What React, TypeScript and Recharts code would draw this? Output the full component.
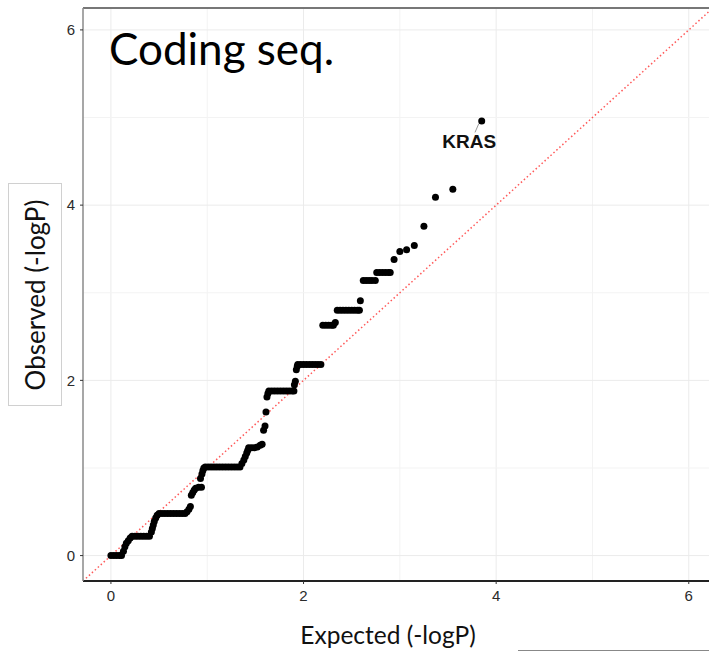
import { ScatterChart, Scatter, XAxis, YAxis, ReferenceLine } from "recharts";

const expected = [
    0.0, 0.03, 0.06, 0.09, 0.11,
    0.13, 0.145, 0.16, 0.18, 0.2,
    0.22, 0.25, 0.28, 0.31, 0.34, 0.37, 0.4,
    0.42, 0.43, 0.44, 0.45, 0.465, 0.48,
    0.5, 0.53, 0.56, 0.59, 0.62, 0.65, 0.68, 0.71, 0.74, 0.77,
    0.79, 0.81, 0.825,
    0.835, 0.85, 0.865, 0.88, 0.91, 0.94,
    0.93, 0.945, 0.955, 0.965,
    0.98, 1.01, 1.04, 1.07, 1.1, 1.13, 1.16, 1.19, 1.22, 1.25, 1.28, 1.31, 1.34,
    1.36, 1.38, 1.395, 1.41, 1.42,
    1.43, 1.46, 1.49, 1.52, 1.55, 1.57,
    1.585, 1.6, 1.61, 1.62, 1.63,
    1.64, 1.67, 1.7, 1.73, 1.76, 1.79, 1.82, 1.85, 1.88, 1.9,
    1.905, 1.915, 1.925, 1.935,
    1.94, 1.97, 2.0, 2.03, 2.06, 2.09, 2.12, 2.15, 2.18,
    2.2, 2.23, 2.26, 2.29, 2.31, 2.33,
    2.35, 2.38, 2.41, 2.44, 2.47, 2.5, 2.53, 2.56, 2.58,
    2.59,
    2.62, 2.65, 2.68, 2.71, 2.745,
    2.76, 2.79, 2.82, 2.85, 2.88, 2.9,
    2.94, 3.0, 3.07, 3.15, 3.25, 3.37, 3.55, 3.85,
];

const observed = [
    0, 0, 0, 0, 0,
    0.05, 0.1, 0.14, 0.17, 0.2,
    0.22, 0.22, 0.22, 0.22, 0.22, 0.22, 0.22,
    0.27, 0.31, 0.35, 0.39, 0.43, 0.46,
    0.48, 0.48, 0.48, 0.48, 0.48, 0.48, 0.48, 0.48, 0.48, 0.48,
    0.5, 0.53, 0.56,
    0.69, 0.72, 0.75, 0.77, 0.78, 0.78,
    0.88, 0.93, 0.97, 1.0,
    1.01, 1.01, 1.01, 1.01, 1.01, 1.01, 1.01, 1.01, 1.01, 1.01, 1.01, 1.01, 1.01,
    1.05, 1.09, 1.13, 1.17, 1.2,
    1.23, 1.23, 1.23, 1.24, 1.26, 1.27,
    1.43, 1.48, 1.64, 1.81, 1.85,
    1.88, 1.88, 1.88, 1.88, 1.88, 1.88, 1.88, 1.88, 1.88, 1.88,
    1.95, 1.99, 2.12, 2.16,
    2.18, 2.18, 2.18, 2.18, 2.18, 2.18, 2.18, 2.18, 2.18,
    2.63, 2.63, 2.63, 2.63, 2.63, 2.66,
    2.8, 2.8, 2.8, 2.8, 2.8, 2.8, 2.8, 2.8, 2.8,
    2.91,
    3.14, 3.14, 3.14, 3.14, 3.14,
    3.23, 3.23, 3.23, 3.23, 3.23, 3.23,
    3.38, 3.47, 3.49, 3.54, 3.76, 4.09, 4.18, 4.96,
];

// labelled gene
const labelGenes = ["KRAS"];
const labelX = [3.72];
const labelY = [4.73];

const xTicks = [0, 2, 4, 6];
const yTicks = [0, 2, 4, 6];
const gridValues = [0, 1, 2, 3, 4, 5, 6];

const xDomain: [number, number] = [-0.29, 6.21];
const yDomain: [number, number] = [-0.29, 6.25];

const points = expected.map((x, i) => ({ x, y: observed[i] }));
const labels = labelGenes.map((name, i) => ({ x: labelX[i], y: labelY[i], name }));

const tickStyle = { fill: "#2b2b2b", fontSize: 15, fontFamily: "Liberation Sans, Arial, sans-serif" };

const Dot = (props: any) => <circle cx={props.cx} cy={props.cy} r={3.5} fill="#000" />;

const GeneLabel = (props: any) => (
    <text
        x={props.cx}
        y={props.cy}
        textAnchor="middle"
        dominantBaseline="central"
        fontFamily="Liberation Sans, Arial, sans-serif"
        fontWeight="bold"
        fontSize={19}
        fill="#111"
    >
        {props.payload?.name}
    </text>
);

export default function App() {
    return (
        <div style={{ position: "relative", width: 709, height: 652, background: "#fff" }}>
            <style>{"body{margin:0}"}</style>
            <ScatterChart width={709} height={652} margin={{ top: 8, right: 0, bottom: 0, left: 0 }}>
                {gridValues.map((v) => (
                    <ReferenceLine key={"gx" + v} x={v} stroke={v % 2 ? "#f3f3f3" : "#ebebeb"} strokeWidth={1} />
                ))}
                {gridValues.map((v) => (
                    <ReferenceLine key={"gy" + v} y={v} stroke={v % 2 ? "#f3f3f3" : "#ebebeb"} strokeWidth={1} />
                ))}
                <XAxis
                    type="number"
                    dataKey="x"
                    domain={xDomain}
                    ticks={xTicks}
                    interval={0}
                    allowDataOverflow
                    height={71}
                    tickSize={3}
                    tickMargin={6}
                    axisLine={{ stroke: "#222", strokeWidth: 1.8 }}
                    tickLine={{ stroke: "#333" }}
                    tick={tickStyle}
                />
                <YAxis
                    type="number"
                    dataKey="y"
                    domain={yDomain}
                    ticks={yTicks}
                    interval={0}
                    allowDataOverflow
                    width={83}
                    tickSize={3}
                    tickMargin={5}
                    axisLine={{ stroke: "#8a8a8a", strokeWidth: 1.5 }}
                    tickLine={{ stroke: "#333" }}
                    tick={tickStyle}
                />
                <ReferenceLine y={yDomain[1]} stroke="#777" strokeWidth={2} />
                <Scatter data={points} shape={Dot} isAnimationActive={false} />
                <ReferenceLine
                    segment={[
                        { x: xDomain[0], y: xDomain[0] },
                        { x: xDomain[1], y: xDomain[1] },
                    ]}
                    stroke="#ff3b3b"
                    strokeWidth={1.5}
                    strokeDasharray="1.5 2.5"
                    strokeOpacity={0.85}
                />
                <ReferenceLine
                    segment={[
                        { x: 3.78, y: 4.83 },
                        { x: 3.82, y: 4.93 },
                    ]}
                    stroke="#999"
                    strokeWidth={1}
                />
                <Scatter data={labels} shape={GeneLabel} isAnimationActive={false} />
            </ScatterChart>

            <div
                style={{
                    position: "absolute",
                    left: 109,
                    top: 18,
                    fontFamily: "Lato, sans-serif",
                    fontSize: 44,
                    lineHeight: "60px",
                    color: "#000",
                }}
            >
                Coding seq.
            </div>

            <div
                style={{
                    position: "absolute",
                    left: 8,
                    top: 183,
                    width: 54,
                    height: 223,
                    border: "1px solid #d0d0d0",
                    boxSizing: "border-box",
                }}
            >
                <div
                    style={{
                        position: "absolute",
                        left: "50%",
                        top: "50%",
                        transform: "translate(-50%, -50%) rotate(-90deg)",
                        whiteSpace: "nowrap",
                        fontFamily: "Lato, sans-serif",
                        fontSize: 26,
                        color: "#111",
                    }}
                >
                    Observed (-logP)
                </div>
            </div>

            <div
                style={{
                    position: "absolute",
                    left: 388,
                    top: 634,
                    transform: "translate(-50%, -50%)",
                    whiteSpace: "nowrap",
                    fontFamily: "Lato, sans-serif",
                    fontSize: 24.5,
                    color: "#111",
                }}
            >
                Expected (-logP)
            </div>

            <div
                style={{
                    position: "absolute",
                    left: 518,
                    top: 650,
                    width: 191,
                    borderTop: "1.5px solid #888",
                }}
            />
        </div>
    );
}
